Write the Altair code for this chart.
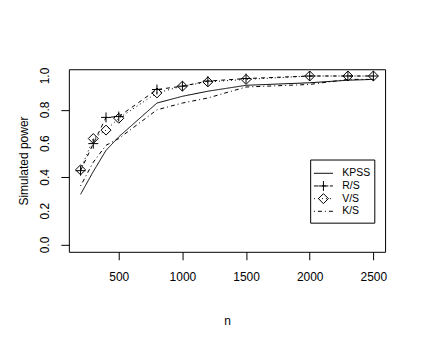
import altair as alt
import pandas as pd

n = [200, 300, 400, 500, 800, 1000, 1200, 1500, 2000, 2300, 2500]
kpss = [0.30, 0.435, 0.56, 0.64, 0.84, 0.88, 0.91, 0.945, 0.96, 0.975, 0.98]
rs = [0.44, 0.60, 0.755, 0.76, 0.92, 0.94, 0.97, 0.985, 1.0, 1.0, 1.0]
vs = [0.445, 0.63, 0.68, 0.75, 0.90, 0.94, 0.965, 0.98, 1.0, 1.0, 1.0]
ks = [0.35, 0.49, 0.59, 0.63, 0.80, 0.84, 0.87, 0.935, 0.95, 0.98, 0.98]
series = ["KPSS", "R/S", "V/S", "K/S"]
x_ticks = [500, 1000, 1500, 2000, 2500]
y_ticks = [0.0, 0.2, 0.4, 0.6, 0.8, 1.0]
y_labels = ["0.0", "0.2", "0.4", "0.6", "0.8", "1.0"]

dashes = [[1, 0], [4, 4], [1, 3], [1, 3, 4, 3]]
PLUS = "M-1,0L1,0M0,-1L0,1"
DIAMOND = "M0,-1L1,0L0,1L-1,0Z"

rows = []
for name, vals in zip(series, [kpss, rs, vs, ks]):
    for x, v in zip(n, vals):
        rows.append({"n": x, "power": v, "series": name})
df = pd.DataFrame(rows)
pts = df[df["series"].isin(["R/S", "V/S"])]

W, H = 317, 183
FONT = "Liberation Sans"

yscale = alt.Scale(domain=[-0.04, 1.04], nice=False, zero=False)
xenc = alt.X("n:Q", scale=alt.Scale(domain=[108, 2592], nice=False, zero=False),
             axis=alt.Axis(values=x_ticks, title="n", domain=False, grid=False,
                           tickSize=8, labelPadding=12, titlePadding=33,
                           labelFontSize=12, titleFontSize=12, format="d",
                           labelOverlap=False))
yenc = alt.Y("power:Q", scale=yscale,
             axis=alt.Axis(values=y_ticks, title="Simulated power", domain=False, grid=False,
                           tickSize=8, labels=False, titlePadding=30,
                           titleFontSize=12))

dash_enc = alt.StrokeDash("series:N", scale=alt.Scale(domain=series, range=dashes), legend=None)
shape_enc = alt.Shape("series:N", scale=alt.Scale(domain=["R/S", "V/S"], range=[PLUS, DIAMOND]), legend=None)

lines = alt.Chart(df).mark_line(color="black", strokeWidth=1).encode(
    x=xenc, y=yenc, strokeDash=dash_enc, detail="series:N")
points = alt.Chart(pts).mark_point(filled=False, color="black", strokeWidth=1, size=100, opacity=1).encode(
    x="n:Q", y="power:Q", shape=shape_enc)

# y tick labels, vertical as in R
ylab_df = pd.DataFrame({"power": y_ticks, "label": y_labels})
ylabs = alt.Chart(ylab_df).mark_text(angle=270, align="center", baseline="middle",
                                     fontSize=12, font=FONT, color="black").encode(
    x=alt.value(-24), y=alt.Y("power:Q", scale=yscale), text="label:N")

# legend (layout in pixels)
LX0, LY0 = 242.4, 91.0
leg = pd.DataFrame({"series": series})
leg["ly"] = [LY0 + 13.3 + i * 12.7 for i in range(len(series))]
leg["x1"] = LX0 + 3.3
leg["x2"] = LX0 + 22.3
leg["xs"] = LX0 + 12.8
leg["xt"] = LX0 + 31.6
leg_pts = leg[leg["series"].isin(["R/S", "V/S"])]

leg_box = alt.Chart(pd.DataFrame({"a": [0]})).mark_rect(fill="white", stroke="black", strokeWidth=1).encode(
    x=alt.value(LX0), x2=alt.value(LX0 + 64.3), y=alt.value(LY0), y2=alt.value(LY0 + 63.3))
leg_rules = alt.Chart(leg).mark_rule(color="black", strokeWidth=1).encode(
    x=alt.X("x1:Q", scale=None), x2="x2:Q", y=alt.Y("ly:Q", scale=None), strokeDash=dash_enc)
leg_syms = alt.Chart(leg_pts).mark_point(filled=False, color="black", strokeWidth=1, size=100, opacity=1).encode(
    x=alt.X("xs:Q", scale=None), y=alt.Y("ly:Q", scale=None), shape=shape_enc)
leg_text = alt.Chart(leg).mark_text(align="left", baseline="middle", fontSize=10.5, font=FONT, color="black").encode(
    x=alt.X("xt:Q", scale=None), y=alt.Y("ly:Q", scale=None), text="series:N")

chart = alt.layer(lines, points, ylabs, leg_box, leg_rules, leg_syms, leg_text).properties(
    width=W, height=H,
    autosize=alt.AutoSizeParams(type="none"),
    padding={"left": 61, "top": 61, "right": 30, "bottom": 80},
).configure_view(stroke="black", strokeWidth=1).configure_axis(
    labelFont=FONT, titleFont=FONT, labelColor="black", titleColor="black",
    tickColor="black", titleFontWeight="normal"
)

chart.save("out.html", embed_options={"renderer": "svg", "actions": False})
